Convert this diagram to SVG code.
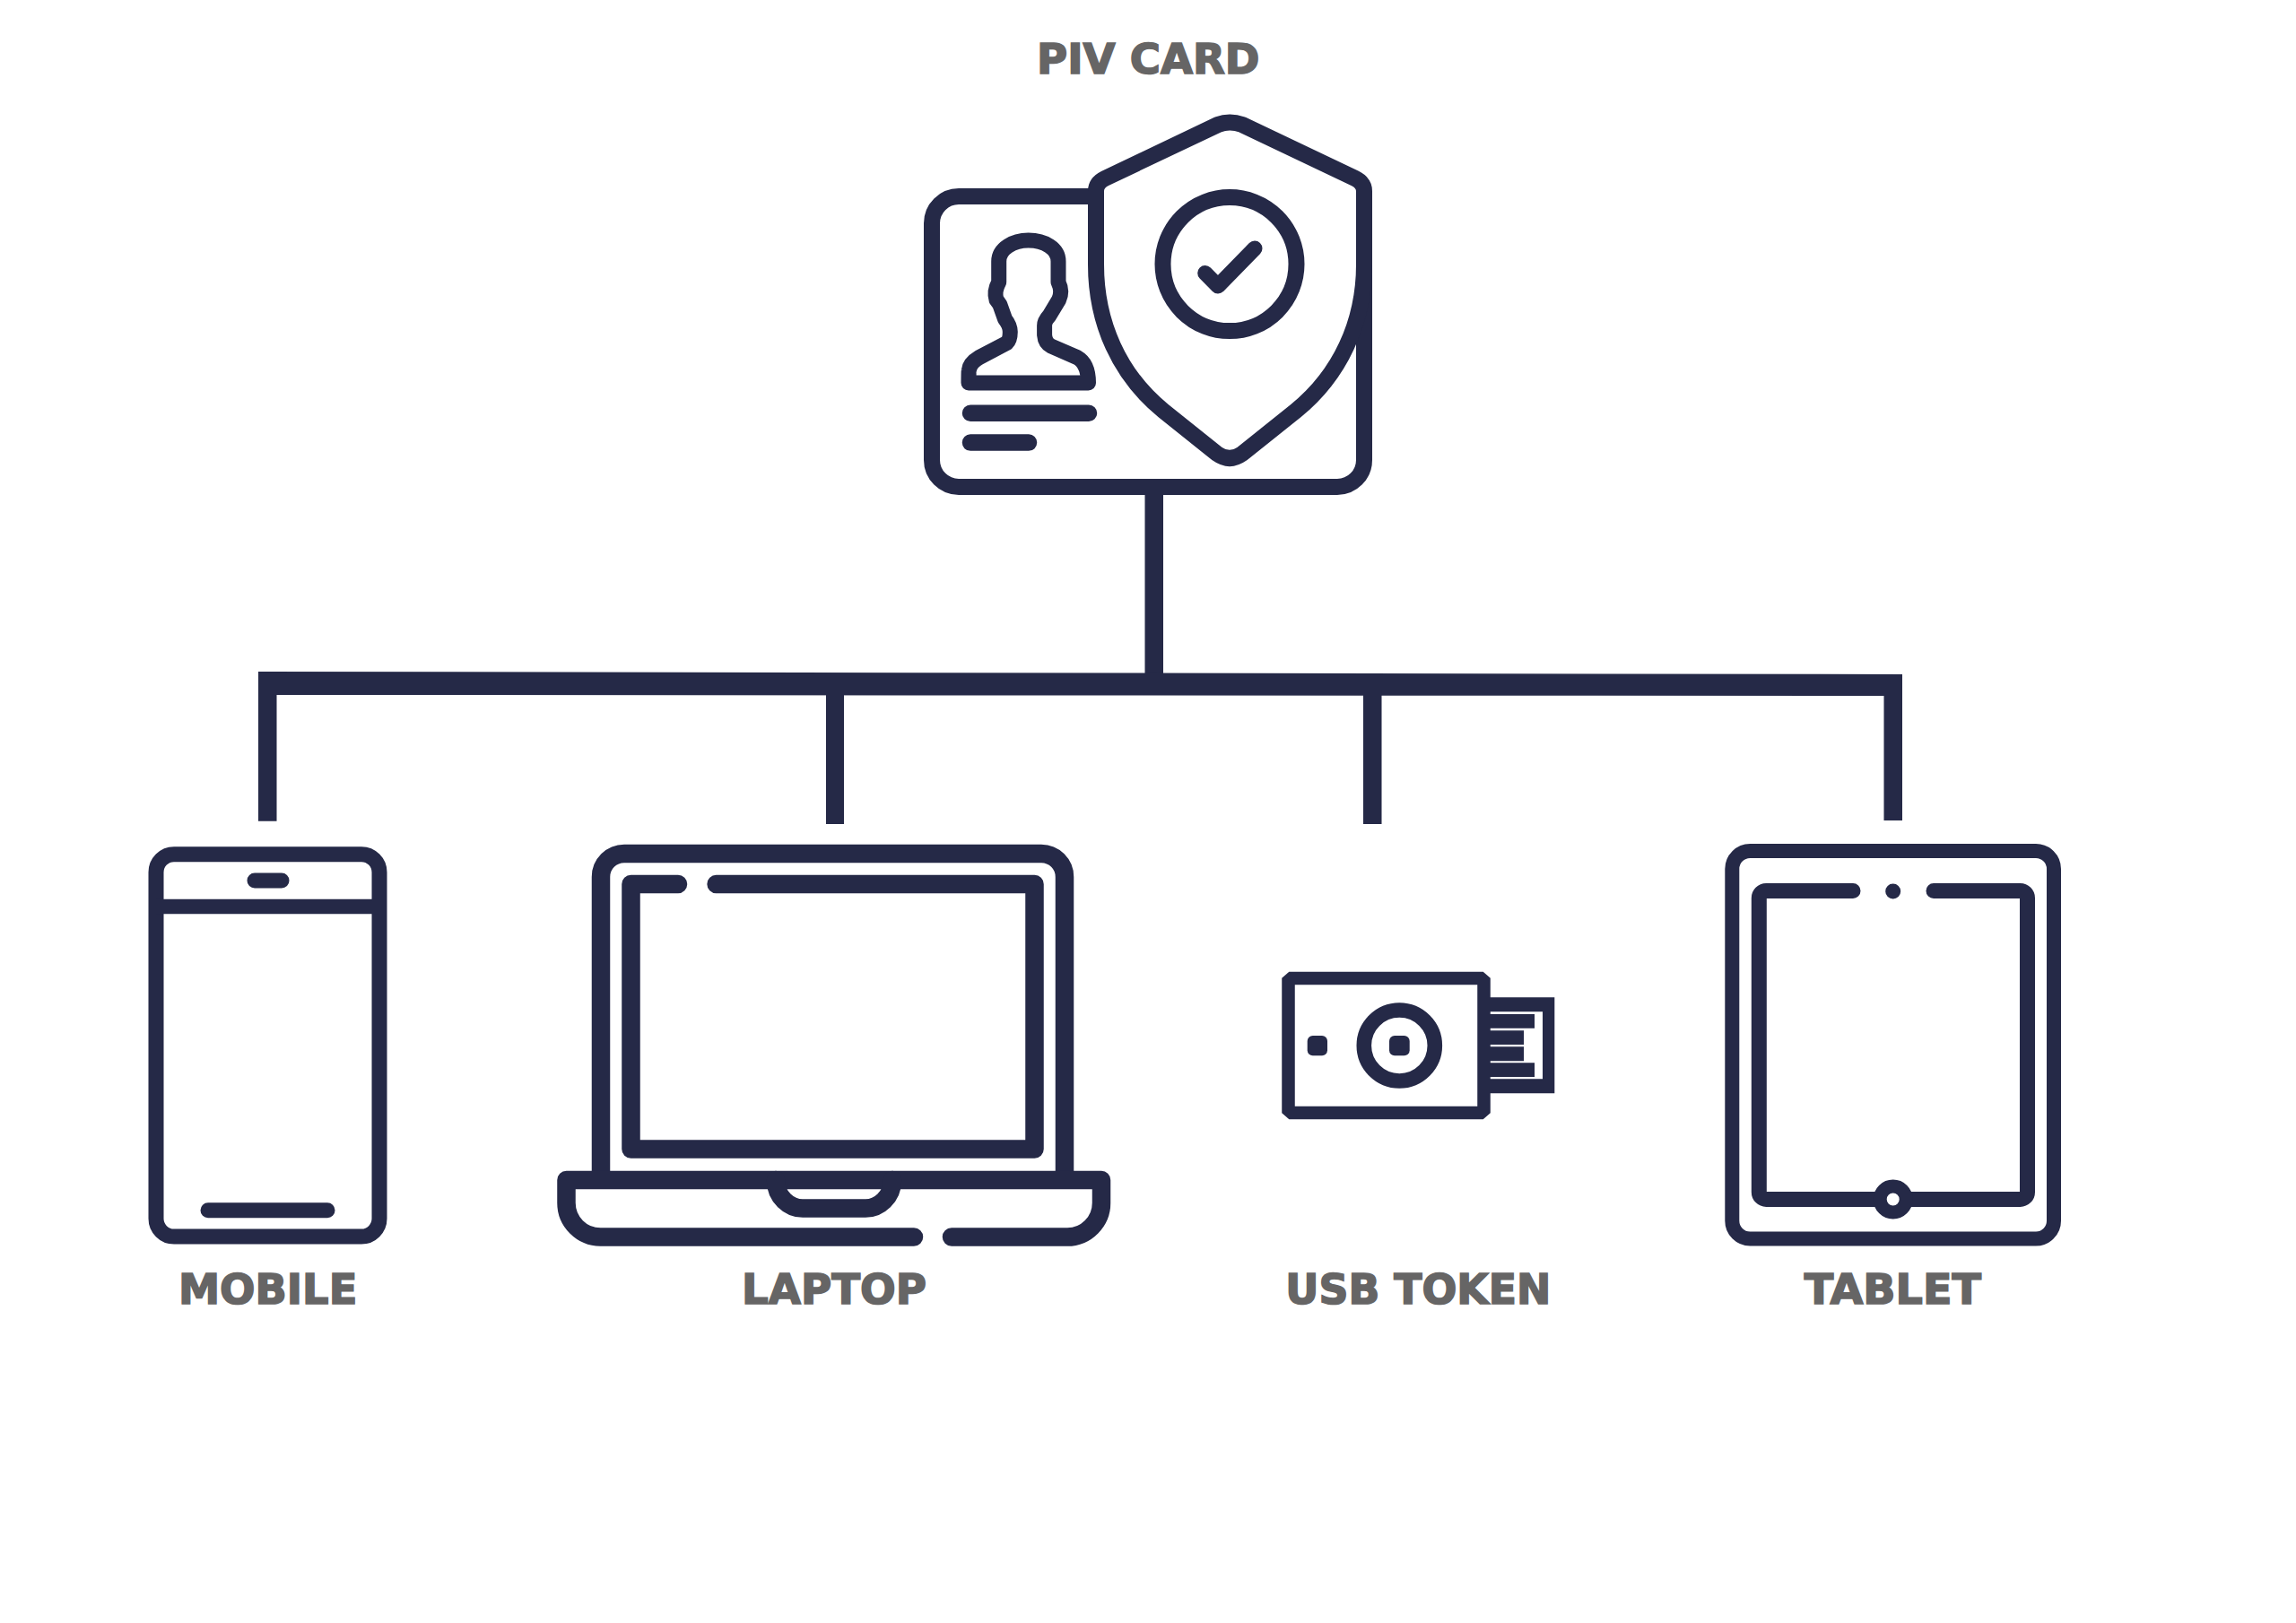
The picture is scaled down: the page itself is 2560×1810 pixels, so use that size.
<svg xmlns="http://www.w3.org/2000/svg" width="2560" height="1810" viewBox="0 0 2560 1810">
<style>
.s{fill:none;stroke:#252947;stroke-width:17;stroke-linecap:round;stroke-linejoin:round}
.f{fill:#252947;stroke:none}
.l{font-family:"DejaVu Sans","Liberation Sans",sans-serif;font-weight:700;font-size:46px;fill:#666565;stroke:#666565;stroke-width:1.6px}
</style>
<rect width="2560" height="1810" fill="#fff"/>
<g id="connectors">
<path class="f" d="M1276.5 552H1297V752H1276.5Z"/>
<path class="f" d="M288 749L2121 752V915H2100.5V776L308.5 775V915.7H288Z"/>
<path class="f" d="M921 770H941V919H921Z"/>
<path class="f" d="M1520 770H1540.5V919H1520Z"/>
</g>
<g id="piv-card">
<path class="s" d="M1214 219H1069A30 30 0 0 0 1039 249V513A30 30 0 0 0 1069 543H1491A30 30 0 0 0 1521 513V295" style="stroke-linecap:butt;stroke-width:18"/>
<path class="s" style="stroke-width:18" d="M1222 295V213Q1222 204 1232 199L1358 139Q1371 134 1385 139L1511 199Q1521 204 1521 213V295C1521 360 1494 418 1445 458L1385 506Q1371 516 1357 506L1297 458C1248 418 1222 360 1222 295Z"/>
<circle class="s" style="stroke-width:18" cx="1371" cy="294.6" r="74.5"/>
<path class="s" d="M1343.7 304.6L1358 319L1399 277"/>
<path class="s" d="M1080 427Q1080 413 1080.4 413Q1081 405 1091.8 398.6L1122.5 382.5Q1126.3 379 1126.3 370Q1126.3 363 1120.5 355.7L1114.8 339.6L1111 334.3Q1108 325 1113.7 314.6V291.4C1113.7 277 1130 268 1146.6 268C1164.6 268 1180 277 1180 291.4V314.6Q1185 325 1180.6 334.3L1170 352Q1164.6 358 1164.6 363V373.6Q1165.3 382.5 1172 386L1201 398.6Q1213.5 405.7 1213.5 427Z"/>
<path class="s" style="stroke-width:18.5" d="M1082 460.7H1214M1082 493.6H1147"/>
</g>
<g id="mobile">
<rect class="s" x="174" y="952.7" width="249" height="426.3" rx="20"/>
<path class="s" style="stroke-linecap:butt;stroke-width:16.4" d="M174 1011H423"/>
<path class="s" d="M284 982H314M232 1349.7H365"/>
</g>
<g id="laptop">
<path class="s" style="stroke-width:20.5;stroke-linecap:butt" d="M670 1316V978A26 26 0 0 1 696 952H1161A26 26 0 0 1 1187 978V1316"/>
<path class="s" style="stroke-width:20.5" d="M756 986H703.5V1281.6H1153.5V986H798.6"/>
<path class="s" style="stroke-width:20.5" d="M1019 1379.5H670A38 38 0 0 1 631.5 1341V1316H1228V1341A38 38 0 0 1 1190 1379.5H1061"/>
<path class="s" style="stroke-width:20.5" d="M865 1316C865 1335 880 1347.6 895 1347.6H965C980 1347.6 995 1335 995 1316"/>
</g>
<g id="usb-token">
<path class="s" style="stroke-width:14.5;stroke-linejoin:miter" d="M1440 1091H1651L1654.5 1094V1238L1651 1241H1440L1436.5 1238V1094Z"/>
<rect class="f" x="1457.7" y="1155" width="22.3" height="22.3" rx="6"/>
<circle class="s" style="stroke-width:16.6" cx="1560.3" cy="1166" r="39.5"/>
<rect class="f" x="1549" y="1155" width="22.7" height="22.3" rx="6"/>
<path class="f" d="M1660 1112.3H1733.3V1219.3H1660V1203.3H1720V1128.3H1660Z"/>
<path class="f" d="M1660 1131H1711V1146.7H1660ZM1660 1149.3H1699V1165H1660ZM1660 1167.3H1699V1183.3H1660ZM1660 1185.3H1711V1201H1660Z"/>
</g>
<g id="tablet">
<rect class="s" style="stroke-width:16" x="1931.3" y="949" width="358.7" height="432.5" rx="20"/>
<path class="s" d="M2066 993.5H1969.3A8 8 0 0 0 1961.3 1001.5V1329.4A8 8 0 0 0 1969.3 1337.4H2252.5A8 8 0 0 0 2260.5 1329.4V1001.5A8 8 0 0 0 2252.5 993.5H2156"/>
<circle class="f" cx="2110.7" cy="994" r="8.5"/>
<circle cx="2110.7" cy="1337.5" r="14.5" fill="#fff" stroke="#252947" stroke-width="15"/>
</g>
<g id="labels">
<text class="l" x="1156" y="82" textLength="248.5" lengthAdjust="spacingAndGlyphs">PIV CARD</text>
<text class="l" x="199" y="1454" textLength="199.3" lengthAdjust="spacingAndGlyphs">MOBILE</text>
<text class="l" x="827" y="1454" textLength="206" lengthAdjust="spacingAndGlyphs">LAPTOP</text>
<text class="l" x="1433.3" y="1454" textLength="296" lengthAdjust="spacingAndGlyphs">USB TOKEN</text>
<text class="l" x="2011.7" y="1454" textLength="197.3" lengthAdjust="spacingAndGlyphs">TABLET</text>
</g>
</svg>
